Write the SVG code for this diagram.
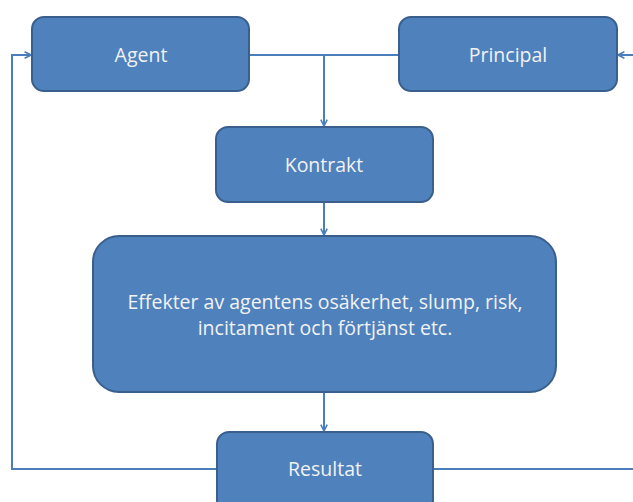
<svg xmlns="http://www.w3.org/2000/svg" width="633" height="502" viewBox="0 0 633 502">
<defs>
<style>
.box{fill:#4F81BD;stroke:#3A5F8C;stroke-width:2}
.t{fill:#F2F2F2;font-family:"Open Sans","Noto Sans",sans-serif;font-size:19.5px;text-anchor:middle}
.c{fill:none;stroke:#4A7EBB;stroke-width:2}
</style>
<marker id="ah" viewBox="0 0 10 10" refX="9" refY="5" markerWidth="8" markerHeight="8" markerUnits="userSpaceOnUse" orient="auto">
<path d="M1,1 L9,5 L1,9" fill="none" stroke="#4A7EBB" stroke-width="2"/>
</marker>
</defs>
<g id="connectors">
<path class="c" d="M249,55 H399"/>
<path class="c" d="M324,55 V126" marker-end="url(#ah)"/>
<path class="c" d="M324,202 V235" marker-end="url(#ah)"/>
<path class="c" d="M324,392 V431" marker-end="url(#ah)"/>
<path class="c" d="M217,469 H12 V55 H31" marker-end="url(#ah)"/>
<path class="c" d="M433,469 H633"/>
<path class="c" d="M633,55 H618" marker-end="url(#ah)"/>
</g>
<g id="agent"><rect class="box" x="32" y="17" width="217" height="74" rx="12"/><text class="t" x="141" y="62">Agent</text></g>
<g id="principal"><rect class="box" x="399" y="17" width="218" height="74" rx="12"/><text class="t" x="508" y="62">Principal</text></g>
<g id="kontrakt"><rect class="box" x="216" y="127" width="217" height="75" rx="12"/><text class="t" x="324" y="172">Kontrakt</text></g>
<g id="effekter"><rect class="box" x="93" y="236" width="463" height="156" rx="26"/><text class="t" x="325" y="309">Effekter av agentens osäkerhet, slump, risk,</text><text class="t" x="325" y="335">incitament och förtjänst etc.</text></g>
<g id="resultat"><rect class="box" x="217" y="432" width="216" height="80" rx="12"/><text class="t" x="325" y="476">Resultat</text></g>
</svg>
